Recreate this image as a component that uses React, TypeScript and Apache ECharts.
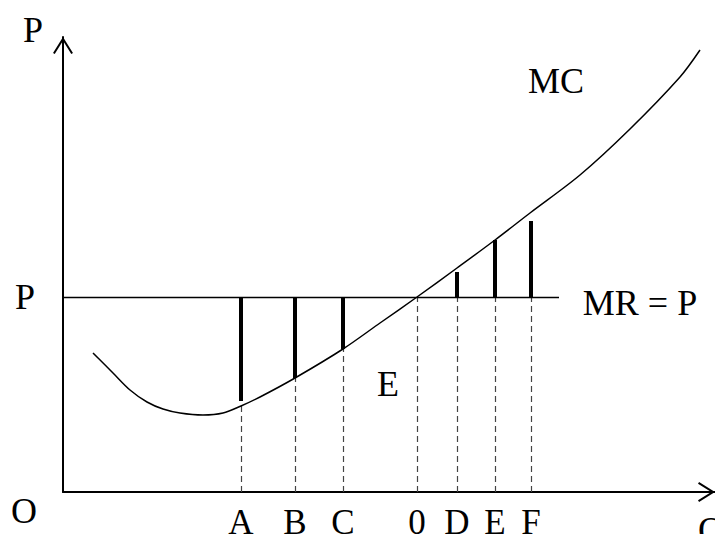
import React, { useEffect, useRef } from "react";
import * as echarts from "echarts";

// Quantities marked on the Q axis
const qLabels = ["A", "B", "C", "0", "D", "E", "F"];
const qValues = [17.8, 23.2, 28.0, 35.4, 39.4, 43.2, 46.8];
// Price level (MR = P)
const priceLevel = 19.5;
const mrEndQ = 49.6;
// Thick bars: from the price level to these values (null = none)
const barEnds: (number | null)[] = [9.1, 11.4, 14.3, null, 22.0, 25.2, 27.1];
// Dashed guides: from the axis up to these values
const dashTops = [8.6, 11.4, 14.3, 19.5, 19.5, 19.5, 19.5];
// MC curve
const mcQ = [3.0, 5.0, 6.7, 8.4, 10.0, 11.7, 14.0, 16.0, 17.8, 19.7, 23.2, 28.0, 31.7, 35.4, 39.4, 43.2, 46.7, 51.7, 56.7, 61.7, 63.7];
const mcP = [13.9, 11.9, 10.2, 9.0, 8.3, 7.9, 7.7, 7.9, 8.6, 9.5, 11.4, 14.3, 16.9, 19.5, 22.4, 25.2, 27.9, 31.7, 36.3, 41.5, 44.2];

const FONT = "'Liberation Serif', 'Times New Roman', serif";
const chevron = "path://M10,0 L20,16 L18.3,17.06 L10,3.77 L1.7,17.06 L0,16 Z";

export default function App() {
  const ref = useRef<HTMLDivElement>(null);
  useEffect(() => {
    if (!ref.current) return;
    const chart = echarts.init(ref.current, null, { renderer: "svg" });
    const axisLine = {
      show: true,
      symbol: ["none", chevron],
      symbolSize: [20, 17],
      symbolOffset: [0, -8.5],
      lineStyle: { color: "#000", width: 2 },
    };
    const labelFor = (v: number) => {
      let best = 0;
      qValues.forEach((q, i) => {
        if (Math.abs(q - v) < Math.abs(qValues[best] - v)) best = i;
      });
      return qLabels[best];
    };
    chart.setOption({
      animation: false,
      backgroundColor: "#fff",
      grid: { left: 63, right: 8, top: 37, bottom: 50 },
      xAxis: {
        type: "value",
        min: 0,
        max: 65.2,
        axisLine,
        axisTick: { show: false },
        splitLine: { show: false },
        axisLabel: {
          show: true,
          customValues: qValues,
          formatter: (v: number) => labelFor(v),
          fontFamily: FONT,
          fontSize: 35,
          lineHeight: 24,
          color: "#000",
          margin: 18,
        },
      },
      yAxis: {
        type: "value",
        min: 0,
        max: 45.5,
        axisLine,
        axisTick: { show: false },
        splitLine: { show: false },
        axisLabel: {
          show: true,
          customValues: [priceLevel],
          formatter: () => "P",
          fontFamily: FONT,
          fontSize: 36,
          color: "#000",
          margin: 28,
        },
      },
      series: [
        {
          type: "lines",
          coordinateSystem: "cartesian2d",
          z: 2,
          lineStyle: { color: "#444", width: 1.2, type: [6, 4], opacity: 1 },
          data: qValues.map((q, i) => ({ coords: [[q, 0], [q, dashTops[i]]] })),
        },
        {
          type: "lines",
          coordinateSystem: "cartesian2d",
          z: 3,
          lineStyle: { color: "#000", width: 1.3, opacity: 1 },
          data: [{ coords: [[0, priceLevel], [mrEndQ, priceLevel]] }],
        },
        {
          type: "lines",
          coordinateSystem: "cartesian2d",
          z: 4,
          lineStyle: { color: "#000", width: 4, opacity: 1 },
          data: qValues
            .map((q, i) => (barEnds[i] == null ? null : { coords: [[q, priceLevel], [q, barEnds[i]]] }))
            .filter((d) => d !== null),
        },
        {
          type: "line",
          z: 5,
          smooth: 0.3,
          showSymbol: false,
          lineStyle: { color: "#000", width: 1.5 },
          data: mcQ.map((q, i) => [q, mcP[i]]),
        },
      ],
      graphic: [
        { type: "text", x: 33, y: 30, style: { text: "P", font: `36px ${FONT}`, fill: "#000", align: "center", verticalAlign: "middle" } },
        { type: "text", x: 24, y: 511, style: { text: "O", font: `36px ${FONT}`, fill: "#000", align: "center", verticalAlign: "middle" } },
        { type: "text", x: 698, y: 530, style: { text: "Q", font: `36px ${FONT}`, fill: "#000", align: "left", verticalAlign: "middle" } },
        { type: "text", x: 556, y: 81, style: { text: "MC", font: `36px ${FONT}`, fill: "#000", align: "center", verticalAlign: "middle" } },
        { type: "text", x: 388, y: 384, style: { text: "E", font: `36px ${FONT}`, fill: "#000", align: "center", verticalAlign: "middle" } },
        { type: "text", x: 640, y: 303, style: { text: "MR = P", font: `36px ${FONT}`, fill: "#000", align: "center", verticalAlign: "middle" } },
      ],
    });
    return () => chart.dispose();
  }, []);
  return <div ref={ref} style={{ width: 723, height: 542, margin: -8 }} />;
}
